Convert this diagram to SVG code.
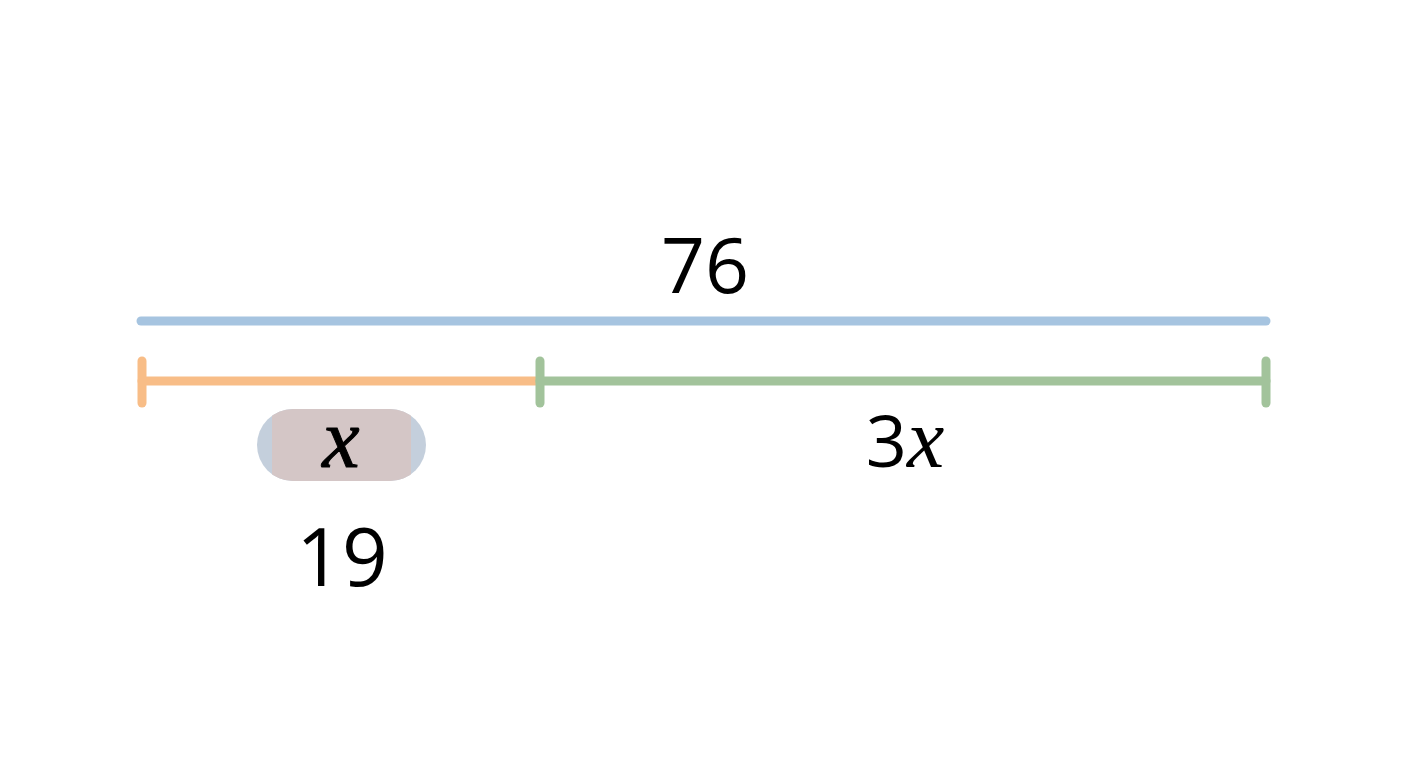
<svg xmlns="http://www.w3.org/2000/svg" width="1408" height="768" viewBox="0 0 1408 768">
<style>
.seg{stroke-linecap:round;fill:none;stroke-width:9}
.num{font-family:"Open Sans","Liberation Sans",sans-serif;fill:#000;text-anchor:middle}
.var{font-family:"Liberation Serif",serif;font-style:italic}
</style>
<defs>
<clipPath id="pill"><rect x="257" y="409" width="169" height="72" rx="36"/></clipPath>
</defs>
<rect width="1408" height="768" fill="#ffffff"/>
<g id="connectors">
<line class="seg" x1="141" y1="321" x2="1266" y2="321" stroke="#a6c4e0"/>
<line class="seg" x1="142" y1="381" x2="540" y2="381" stroke="#f8bd87" stroke-linecap="butt"/>
<line class="seg" x1="142" y1="361" x2="142" y2="403" stroke="#f8bd87" stroke-width="8"/>
<line class="seg" x1="540" y1="381" x2="1266" y2="381" stroke="#a2c39b" stroke-linecap="butt"/>
<line class="seg" x1="540" y1="361" x2="540" y2="403" stroke="#a2c39b" stroke-width="8"/>
<line class="seg" x1="1266" y1="361" x2="1266" y2="403" stroke="#a2c39b" stroke-width="8"/>
</g>
<g id="total">
<text class="num" x="705" y="293" font-size="77">76</text>
</g>
<g id="unit">
<rect x="257" y="409" width="169" height="72" rx="36" fill="#c4cfdc"/>
<rect x="272" y="409" width="139" height="72" fill="#d4c6c6" clip-path="url(#pill)"/>
<text class="num var" x="341" y="467" font-size="84" stroke="#000" stroke-width="1">x</text>
</g>
<g id="triple">
<text class="num" x="905" y="467" font-size="72">3<tspan class="var" font-size="84">x</tspan></text>
</g>
<g id="value">
<text class="num" x="342" y="586" font-size="80">19</text>
</g>
</svg>
